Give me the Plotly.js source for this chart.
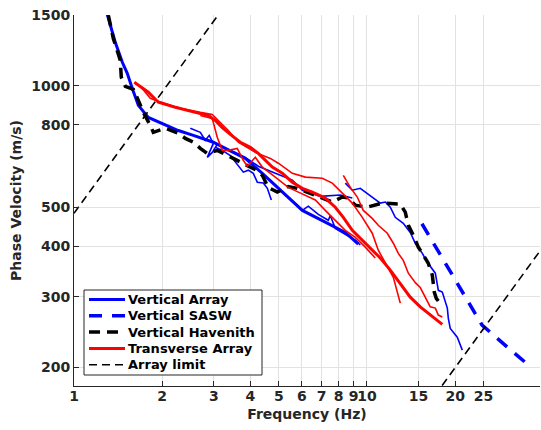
<!DOCTYPE html>
<html>
<head>
<meta charset="utf-8">
<script src="https://cdn.plot.ly/plotly-3.0.1.min.js"></script>
<style>
  html, body { margin: 0; padding: 0; background: #ffffff; }
  #chart { width: 541px; height: 430px; }
</style>
</head>
<body>
<div id="chart"></div>
<script>
// Dispersion curves: phase velocity (m/s) against frequency (Hz)

// Vertical array – smoothed curve
const vaMainF = [1.299, 1.33, 1.383, 1.462, 1.52, 1.581, 1.658, 1.793, 2.001, 2.27, 2.555, 2.989, 3.336, 3.843, 4.393, 4.982, 6.017, 7.205, 8.432, 9.34];
const vaMainV = [1504, 1415, 1284, 1145, 1075, 986, 895, 835, 806, 775, 754, 725, 696, 661, 607, 557, 491, 459, 433, 405];

// Vertical array – individual picks
const vaPick1F = [2.494, 2.698, 2.806, 2.895, 2.989, 2.851, 2.965, 3.084, 3.284, 3.551, 3.843, 4.256, 4.866, 5.562, 6.017, 6.929, 8.108, 8.909];
const vaPick1V = [785, 767, 733, 754, 720, 665, 684, 716, 700, 684, 665, 632, 607, 584, 551, 532, 536, 527];

const vaPick2F = [3.036, 3.208, 3.416, 3.608, 3.783, 3.935, 4.092, 4.223, 4.428, 4.569, 4.715];
const vaPick2V = [704, 692, 672, 639, 611, 618, 607, 577, 574, 557, 521];

const vaPick3F = [4.678, 5.264, 5.783, 6.017, 6.305, 6.821, 7.378, 7.495, 7.795, 8.432, 9.123, 9.487];
const vaPick3V = [584, 536, 506, 491, 503, 480, 464, 477, 443, 428, 414, 403];

const vaPick4F = [8.432, 8.909, 9.487, 9.867, 10.51, 11.10, 11.55, 12.01, 12.49, 13.30, 14.05, 14.62, 15.45, 16.06, 17.11, 17.52, 18.07, 18.80, 18.95, 19.24, 20.33, 21.15];
const vaPick4V = [574, 551, 557, 545, 527, 512, 515, 500, 472, 456, 433, 407, 384, 365, 343, 311, 308, 281, 265, 250, 238, 221];

// Vertical SASW
const saswF = [15.4, 20, 24.7, 30, 36.1];
const saswV = [455, 330, 255, 225.5, 201];

// Vertical Havenith
const havF = [1.31, 1.362, 1.439, 1.45, 1.497, 1.594, 1.658, 1.724, 1.822, 1.865, 2.049, 2.27, 2.399, 2.555, 2.698, 2.851, 3.084, 3.336, 3.608, 3.904, 4.191, 4.393, 4.603, 4.943, 5.387, 5.783, 6.254, 6.556, 7.094, 7.613, 8.236, 8.635, 9.123, 10.02, 11.28, 12.2, 12.99, 13.51, 13.84, 14.28, 14.97, 15.45, 16.19, 16.71, 16.97, 17.24, 18.07];
const havV = [1497, 1312, 1157, 1051, 998, 981, 921, 860, 798, 767, 785, 763, 741, 725, 700, 680, 692, 672, 654, 636, 618, 600, 560, 545, 563, 557, 545, 536, 524, 515, 530, 527, 506, 500, 512, 509, 509, 486, 451, 431, 398, 384, 363, 339, 308, 297, 284];

// Transverse array
const taMainF = [1.606, 1.793, 1.94, 2.218, 2.594, 2.873, 3.036, 3.208, 3.416, 3.695, 3.997, 4.256, 4.752, 5.141, 5.562, 6.017, 6.506, 7.205, 7.795, 8.301, 8.909, 9.638, 10.10, 11.10, 12.01, 12.99, 14.05, 15.20, 16.44, 18.07];
const taMainV = [1021, 965, 911, 885, 860, 845, 821, 788, 758, 725, 704, 680, 629, 607, 577, 557, 545, 527, 500, 472, 438, 414, 398, 374, 349, 324, 299, 283, 270, 256];

const taPick1F = [1.684, 1.822, 1.894, 2.049, 2.306, 2.698, 2.965, 3.158, 3.363, 3.637, 4.157, 4.678, 4.982, 5.562, 6.16, 7.038, 7.613, 8.236, 8.909, 9.638, 10.42, 10.93, 11.55, 12.30, 12.99];
const taPick1V = [998, 932, 921, 905, 880, 860, 850, 811, 775, 725, 684, 661, 643, 607, 594, 590, 574, 542, 512, 472, 431, 391, 365, 335, 289];

const taPick2F = [2.698, 2.965, 3.084, 3.208, 3.363, 3.608, 3.783, 3.904, 4.157, 4.393, 4.866, 5.387, 5.831, 6.16, 6.662, 7.205, 7.795, 8.432, 9.123, 9.867, 10.67];
const taPick2V = [845, 830, 745, 692, 692, 700, 654, 632, 665, 629, 594, 560, 545, 536, 521, 491, 464, 438, 421, 398, 374];

const taPick3F = [8.301, 8.77, 9.265, 9.714, 10.42, 10.93, 11.73, 12.30, 12.79, 13.30, 13.84, 14.62, 15.20, 15.81, 16.44, 17.11, 17.52, 18.07];
const taPick3V = [600, 560, 530, 491, 469, 451, 431, 407, 384, 369, 343, 325, 316, 299, 283, 281, 270, 267];

// Array resolution limits
const limLowF = [1, 3.1];
const limLowV = [483, 1497];
const limHighF = [17, 40];
const limHighV = [170, 400];

// Axis ticks
const xTicks = [1, 2, 3, 4, 5, 6, 7, 8, 9, 10, 15, 20, 25];
const xTickText = ['1', '2', '3', '4', '5', '6', '7', '8', '9', '10', '15', '20', '25'];
const yTicks = [200, 300, 400, 500, 800, 1000, 1500];
const yTickText = ['200', '300', '400', '500', '800', '1000', '1500'];

// Legend entries
const legendNames = ['Vertical Array', 'Vertical SASW', 'Vertical Havenith', 'Transverse Array', 'Array limit'];

const BLUE = '#0000ff', RED = '#ff0000', BLACK = '#000000';
const INK = '#262626';
const FONT = 'DejaVu Sans, sans-serif';

const legendStyles = [
  { color: BLUE, width: 3, dash: 'solid' },
  { color: BLUE, width: 3.5, dash: '13px,10px' },
  { color: BLACK, width: 3.5, dash: '11px,7px' },
  { color: RED, width: 3, dash: 'solid' },
  { color: BLACK, width: 1.6, dash: '8px,5px' }
];

function line(x, y, color, width, dash, name) {
  return {
    type: 'scatter', mode: 'lines', x: x, y: y, name: name || '',
    line: { color: color, width: width, dash: dash || 'solid' },
    showlegend: false, hoverinfo: 'skip'
  };
}

const traces = [
  line(vaPick1F, vaPick1V, BLUE, 1.6),
  line(vaPick2F, vaPick2V, BLUE, 1.6),
  line(vaPick3F, vaPick3V, BLUE, 1.6),
  line(vaPick4F, vaPick4V, BLUE, 1.6),
  line(vaMainF, vaMainV, BLUE, 3, 'solid', legendNames[0]),
  line(havF, havV, BLACK, 3.5, legendStyles[2].dash, legendNames[2]),
  line(taPick1F, taPick1V, RED, 1.6),
  line(taPick2F, taPick2V, RED, 1.6),
  line(taPick3F, taPick3V, RED, 1.6),
  line(taMainF, taMainV, RED, 3, 'solid', legendNames[3]),
  line(saswF, saswV, BLUE, 3.5, legendStyles[1].dash, legendNames[1]),
  line(limLowF, limLowV, BLACK, 1.6, legendStyles[4].dash, legendNames[4]),
  line(limHighF, limHighV, BLACK, 1.6, legendStyles[4].dash)
];

// Legend box drawn in paper coordinates (plot area: 466 x 371 px)
const PW = 466, PH = 371, PL = 74, PB = 386;
const px = v => (v - PL) / PW;
const py = v => (PB - v) / PH;

const shapes = [{
  type: 'rect', xref: 'paper', yref: 'paper',
  x0: px(84), x1: px(262), y0: py(375), y1: py(290),
  fillcolor: '#ffffff', line: { color: INK, width: 1 }, layer: 'above'
}];
const annotations = [];
legendNames.forEach((name, i) => {
  const yc = 299.5 + i * 16.3;
  shapes.push({
    type: 'line', xref: 'paper', yref: 'paper',
    x0: px(89), x1: px(125), y0: py(yc), y1: py(yc),
    line: legendStyles[i], layer: 'above'
  });
  annotations.push({
    xref: 'paper', yref: 'paper', x: px(126), y: py(yc),
    xanchor: 'left', yanchor: 'middle', showarrow: false, text: name,
    font: { family: FONT, size: 13, color: BLACK, weight: 'bold' }
  });
});

const axisCommon = {
  type: 'log',
  showgrid: true, gridcolor: '#e2e2e2', gridwidth: 1,
  showline: true, linecolor: INK, linewidth: 1,
  ticks: 'inside', ticklen: 5, tickwidth: 1, tickcolor: INK,
  tickmode: 'array', tickangle: 0,
  zeroline: false,
  tickfont: { family: FONT, size: 14, color: INK, weight: 'bold' }
};

const layout = {
  width: 541, height: 430,
  margin: { l: 74, r: 1, t: 15, b: 44 },
  paper_bgcolor: '#ffffff', plot_bgcolor: '#ffffff',
  showlegend: false,
  xaxis: Object.assign({}, axisCommon, {
    range: [0, 1.5905],
    tickvals: xTicks, ticktext: xTickText,
    ticklabelstandoff: -3,
    title: { text: 'Frequency (Hz)', standoff: 6,
             font: { family: FONT, size: 14, color: INK, weight: 'bold' } }
  }),
  yaxis: Object.assign({}, axisCommon, {
    range: [Math.log10(180), Math.log10(1500)],
    tickvals: yTicks, ticktext: yTickText,
    title: { text: 'Phase Velocity (m/s)', standoff: 6,
             font: { family: FONT, size: 14, color: INK, weight: 'bold' } }
  }),
  shapes: shapes,
  annotations: annotations
};

Plotly.newPlot('chart', traces, layout, { displayModeBar: false, staticPlot: true });
</script>
</body>
</html>
